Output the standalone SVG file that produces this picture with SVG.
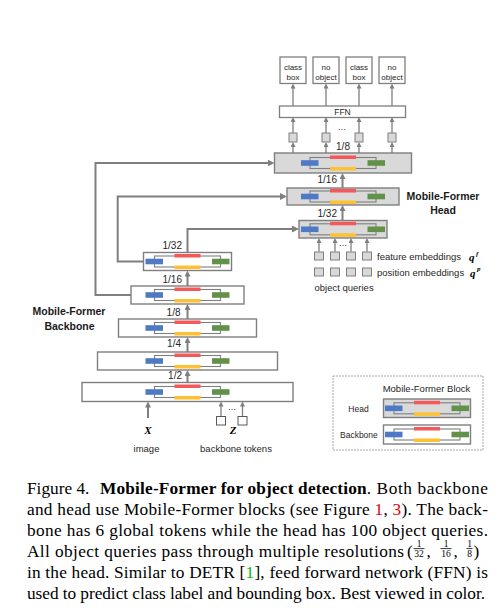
<svg xmlns="http://www.w3.org/2000/svg" width="503" height="615" viewBox="0 0 503 615">
<defs>
<style>
.blk{stroke:#7f7f7f;stroke-width:1.4}
.hd{fill:#d9d9d9}
.bb{fill:#ffffff}
.ln{fill:none;stroke:#7f7f7f;stroke-width:2}
.ls{fill:none;stroke:#7f7f7f;stroke-width:1.3}
.lab{font-family:'Liberation Sans',Arial,sans-serif;fill:#262626}
.f10{font-size:10px}
.f95{font-size:9.5px}
.f85{font-size:8.5px}
.f8{font-size:8px}
.bold{font-weight:bold;font-size:10.5px;fill:#1a1a1a}
.math{font-family:'Liberation Serif','Times New Roman',serif;font-weight:bold;font-style:italic;fill:#000}
.cap{font-family:'Liberation Serif','Times New Roman',serif;font-size:17.3px;fill:#000}
.fr{font-family:'Liberation Serif','Times New Roman',serif;font-size:9.5px;fill:#000}
.sq{fill:#d9d9d9;stroke:#7f7f7f;stroke-width:1}
.wsq{fill:#fff;stroke:#595959;stroke-width:1}
.ob{fill:#fff;stroke:#7f7f7f;stroke-width:1.3}
</style>
<g id="core">
<rect x="-33" y="-5.5" width="66" height="11" fill="none" stroke="#7f7f7f" stroke-width="1.1"/>
<rect x="-13" y="-7.5" width="26" height="3.5" fill="#f4585a"/>
<rect x="-13" y="4" width="26" height="3.5" fill="#fdc131"/>
<rect x="-42" y="-2.8" width="17.5" height="5.6" fill="#4e79c5"/>
<rect x="24.5" y="-2.8" width="17.5" height="5.6" fill="#62914a"/>
</g>
<marker id="ar" markerWidth="8" markerHeight="8" refX="4" refY="3.5" orient="auto" markerUnits="userSpaceOnUse"><path d="M0,0 L7,3.5 L0,7 z" fill="#7f7f7f"/></marker>
<marker id="au" markerWidth="7" markerHeight="7" refX="3" refY="3" orient="auto" markerUnits="userSpaceOnUse"><path d="M0,0 L6,3 L0,6 z" fill="#7f7f7f"/></marker>
<marker id="as" markerWidth="6" markerHeight="6" refX="2.5" refY="2.5" orient="auto" markerUnits="userSpaceOnUse"><path d="M0,0 L5,2.5 L0,5 z" fill="#7f7f7f"/></marker>
</defs>

<!-- connectors -->
<g id="connectors">
<path class="ln" d="M187.5 382.5 V373" marker-end="url(#au)"/>
<path class="ln" d="M187.5 352 V340" marker-end="url(#au)"/>
<path class="ln" d="M187.5 319 V307" marker-end="url(#au)"/>
<path class="ln" d="M187.5 286 V273.5" marker-end="url(#au)"/>
<path class="ln" d="M187.5 252.5 V229 H296" marker-end="url(#ar)"/>
<path class="ln" d="M143.5 261.5 H117.7 V196.5 H284" marker-end="url(#ar)"/>
<path class="ln" d="M131 295 H95.5 V163 H271.5" marker-end="url(#ar)"/>
<path class="ln" d="M342.5 220.5 V208" marker-end="url(#au)"/>
<path class="ln" d="M342.5 188 V176" marker-end="url(#au)"/>
<path class="ls" d="M293 153 V144.5" marker-end="url(#as)"/>
<path class="ls" d="M326 153 V144.5" marker-end="url(#as)"/>
<path class="ls" d="M359 153 V144.5" marker-end="url(#as)"/>
<path class="ls" d="M392 153 V144.5" marker-end="url(#as)"/>
<path class="ls" d="M293 133 V119.5" marker-end="url(#as)"/>
<path class="ls" d="M326 133 V119.5" marker-end="url(#as)"/>
<path class="ls" d="M359 133 V119.5" marker-end="url(#as)"/>
<path class="ls" d="M392 133 V119.5" marker-end="url(#as)"/>
<path class="ls" d="M293 106 V86" marker-end="url(#as)"/>
<path class="ls" d="M326 106 V86" marker-end="url(#as)"/>
<path class="ls" d="M359 106 V86" marker-end="url(#as)"/>
<path class="ls" d="M392 106 V86" marker-end="url(#as)"/>
<path class="ls" d="M319 251.5 V240.5" marker-end="url(#as)"/>
<path class="ls" d="M335 251.5 V240.5" marker-end="url(#as)"/>
<path class="ls" d="M351 251.5 V240.5" marker-end="url(#as)"/>
<path class="ls" d="M367 251.5 V240.5" marker-end="url(#as)"/>
<path class="ln" d="M148 418 V404.5" marker-end="url(#au)"/>
<path class="ls" d="M221 416.5 V404" marker-end="url(#as)"/>
<path class="ls" d="M242.5 416.5 V404" marker-end="url(#as)"/>
</g>

<!-- outputs -->
<g id="out1"><rect class="ob" x="280" y="57" width="26" height="26.5"/><text class="lab f8" x="293" y="69.5" text-anchor="middle">class</text><text class="lab f8" x="293" y="79.5" text-anchor="middle">box</text></g>
<g id="out2"><rect class="ob" x="313" y="57" width="26" height="26.5"/><text class="lab f8" x="326" y="69.5" text-anchor="middle">no</text><text class="lab f8" x="326" y="79.5" text-anchor="middle">object</text></g>
<g id="out3"><rect class="ob" x="346" y="57" width="26" height="26.5"/><text class="lab f8" x="359" y="69.5" text-anchor="middle">class</text><text class="lab f8" x="359" y="79.5" text-anchor="middle">box</text></g>
<g id="out4"><rect class="ob" x="379" y="57" width="26" height="26.5"/><text class="lab f8" x="392" y="69.5" text-anchor="middle">no</text><text class="lab f8" x="392" y="79.5" text-anchor="middle">object</text></g>

<g id="ffn"><rect class="ob" x="279.5" y="106" width="126" height="11.5"/><text class="lab f85" x="342.5" y="115.3" text-anchor="middle">FFN</text></g>

<g id="head-queries">
<rect class="sq" x="289" y="133" width="8" height="9"/>
<rect class="sq" x="322" y="133" width="8" height="9"/>
<rect class="sq" x="355" y="133" width="8" height="9"/>
<rect class="sq" x="388" y="133" width="8" height="9"/>
<text class="lab f85" x="342" y="130" text-anchor="middle">…</text>
<text class="lab f10" x="343" y="150" text-anchor="middle">1/8</text>
</g>

<!-- head blocks -->
<g id="head1"><rect class="blk hd" x="274.5" y="153" width="137" height="20"/><use href="#core" x="343" y="163"/></g>
<g id="head2"><rect class="blk hd" x="287" y="188" width="112" height="17"/><use href="#core" x="343" y="196.5"/><text class="lab f10" x="337" y="183" text-anchor="end">1/16</text></g>
<g id="head3"><rect class="blk hd" x="299" y="220.5" width="88" height="17.5"/><use href="#core" x="343" y="229.3"/><text class="lab f10" x="337" y="217" text-anchor="end">1/32</text></g>

<g id="head-label"><text class="lab bold" x="443" y="199.5" text-anchor="middle">Mobile-Former</text><text class="lab bold" x="443" y="213.5" text-anchor="middle">Head</text></g>

<g id="object-queries">
<rect class="sq" x="314.5" y="252" width="9" height="8"/>
<rect class="sq" x="330.5" y="252" width="9" height="8"/>
<rect class="sq" x="346.5" y="252" width="9" height="8"/>
<rect class="sq" x="362.5" y="252" width="9" height="8"/>
<rect class="sq" x="314.5" y="268" width="9" height="8"/>
<rect class="sq" x="330.5" y="268" width="9" height="8"/>
<rect class="sq" x="346.5" y="268" width="9" height="8"/>
<rect class="sq" x="362.5" y="268" width="9" height="8"/>
<text class="lab f85" x="343" y="246" text-anchor="middle">…</text>
<text class="lab f95" x="377" y="260">feature embeddings</text>
<text class="math" x="469" y="261" font-size="11">q</text><text class="math" x="476" y="256" font-size="7">f</text>
<text class="lab f95" x="377" y="275.5">position embeddings</text>
<text class="math" x="470" y="276.5" font-size="11">q</text><text class="math" x="477" y="271" font-size="7">p</text>
<text class="lab f95" x="314.5" y="291">object queries</text>
</g>

<!-- backbone blocks -->
<g id="bb1"><rect class="blk bb" x="143.5" y="252.5" width="88" height="18"/><use href="#core" x="187.5" y="261.5"/><text class="lab f10" x="182" y="249" text-anchor="end">1/32</text></g>
<g id="bb2"><rect class="blk bb" x="131" y="286" width="113" height="18"/><use href="#core" x="187.5" y="295"/><text class="lab f10" x="182" y="283" text-anchor="end">1/16</text></g>
<g id="bb3"><rect class="blk bb" x="118.5" y="319" width="138" height="18"/><use href="#core" x="187.5" y="328"/><text class="lab f10" x="180.5" y="316" text-anchor="end">1/8</text></g>
<g id="bb4"><rect class="blk bb" x="97.5" y="352" width="180" height="18"/><use href="#core" x="187.5" y="361"/><text class="lab f10" x="181" y="347" text-anchor="end">1/4</text></g>
<g id="bb5"><rect class="blk bb" x="82" y="382.5" width="211" height="19"/><use href="#core" x="187.5" y="392"/><text class="lab f10" x="182" y="379" text-anchor="end">1/2</text></g>

<g id="backbone-label"><text class="lab bold" x="69" y="315" text-anchor="middle">Mobile-Former</text><text class="lab bold" x="69.5" y="329.5" text-anchor="middle">Backbone</text></g>

<g id="image-input"><text class="math" x="148" y="434" font-size="11" text-anchor="middle">X</text><text class="lab f95" x="146.5" y="451.5" text-anchor="middle">image</text></g>
<g id="backbone-tokens">
<rect class="wsq" x="216.5" y="416.5" width="9" height="8.5"/>
<rect class="wsq" x="238" y="416.5" width="9" height="8.5"/>
<text class="lab f85" x="232" y="410" text-anchor="middle">…</text>
<text class="math" x="233" y="434" font-size="11" text-anchor="middle">Z</text>
<text class="lab f95" x="236" y="451.5" text-anchor="middle">backbone tokens</text>
</g>

<!-- legend -->
<g id="legend">
<rect x="333" y="376" width="150" height="74" fill="#fff" stroke="#a6a6a6" stroke-width="1" stroke-dasharray="2,1"/>
<text class="lab f95" x="426.5" y="391.5" text-anchor="middle">Mobile-Former Block</text>
<rect class="blk hd" x="383.5" y="399" width="87" height="18.5"/><use href="#core" x="427" y="408.3"/>
<text class="lab f85" x="348.3" y="411.5">Head</text>
<rect class="blk bb" x="383.5" y="425" width="87" height="19"/><use href="#core" x="427" y="434.5"/>
<text class="lab f85" x="340" y="437.5">Backbone</text>
</g>

<!-- caption -->
<g id="caption">
<text class="cap" x="27" y="493.5">Figure 4.</text>
<text class="cap" x="100" y="493.5" font-weight="bold" textLength="266.7" lengthAdjust="spacing">Mobile-Former for object detection</text>
<text class="cap" x="366.7" y="493.5" textLength="121.3" lengthAdjust="spacing">. Both backbone</text>
<text class="cap" x="27" y="514.5" textLength="461" lengthAdjust="spacing">and head use Mobile-Former blocks (see Figure <tspan fill="#e8000b">1</tspan>, <tspan fill="#e8000b">3</tspan>). The back-</text>
<text class="cap" x="27" y="535.5" textLength="461" lengthAdjust="spacing">bone has 6 global tokens while the head has 100 object queries.</text>
<text class="cap" x="27" y="556.5" textLength="377" lengthAdjust="spacing">All object queries pass through multiple resolutions</text>
<text class="cap" x="407" y="556.5">(</text>
<text class="fr" x="419" y="546.5" text-anchor="middle">1</text>
<line x1="413.5" y1="548.6" x2="424.5" y2="548.6" stroke="#000" stroke-width="0.8"/>
<text class="fr" x="419" y="557.3" text-anchor="middle">32</text>
<text class="cap" x="426.5" y="556.5">,</text>
<text class="fr" x="446" y="546.5" text-anchor="middle">1</text>
<line x1="440.5" y1="548.6" x2="451.5" y2="548.6" stroke="#000" stroke-width="0.8"/>
<text class="fr" x="446" y="557.3" text-anchor="middle">16</text>
<text class="cap" x="453.5" y="556.5">,</text>
<text class="fr" x="469.5" y="546.5" text-anchor="middle">1</text>
<line x1="466.5" y1="548.6" x2="472.5" y2="548.6" stroke="#000" stroke-width="0.8"/>
<text class="fr" x="469.5" y="557.3" text-anchor="middle">8</text>
<text class="cap" x="473.5" y="556.5">)</text>
<text class="cap" x="27" y="577.5" textLength="461" lengthAdjust="spacing">in the head. Similar to DETR [<tspan fill="#00c000">1</tspan>], feed forward network (FFN) is</text>
<text class="cap" x="27" y="598.5" textLength="458" lengthAdjust="spacing">used to predict class label and bounding box. Best viewed in color.</text>
</g>
</svg>
